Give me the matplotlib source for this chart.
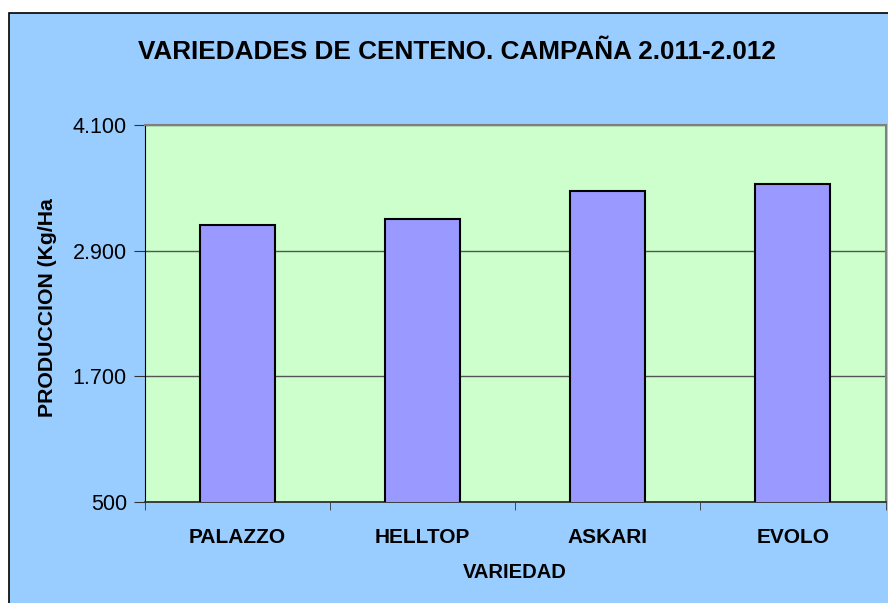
import matplotlib
matplotlib.use('Agg')
import matplotlib.pyplot as plt
from matplotlib import font_manager
from matplotlib.patches import Rectangle

variedades = ['PALAZZO', 'HELLTOP', 'ASKARI', 'EVOLO']
produccion = [3145, 3200, 3467, 3537]
y_ticks = [500, 1700, 2900, 4100]
y_tick_labels = ['500', '1.700', '2.900', '4.100']

title = 'VARIEDADES DE CENTENO. CAMPAÑA 2.011-2.012'
x_label = 'VARIEDAD'
y_label = 'PRODUCCION (Kg/Ha'

names = {f.name for f in font_manager.fontManager.ttflist}
title_font = 'Liberation Sans Narrow' if 'Liberation Sans Narrow' in names else 'Liberation Sans'
plt.rcParams['font.family'] = ['Liberation Sans', 'DejaVu Sans']

W, H = 888, 603
fig = plt.figure(figsize=(W / 100, H / 100), dpi=100, facecolor='white')

# outer chart frame (light blue, black border)
fig.patches.append(Rectangle((8.5 / W, -0.01), 1.0, 1 - 13.5 / H + 0.01,
                             transform=fig.transFigure, facecolor='#99CCFF',
                             edgecolor='black', linewidth=1.2, zorder=-5))

ax = fig.add_axes([145 / W, 1 - 502 / H, (885.5 - 145) / W, (502 - 125) / H])
ax.set_zorder(2)
ax.set_facecolor('#CCFFCC')

x = list(range(len(variedades)))
ax.bar(x, produccion, width=0.405, color='#9999FF', edgecolor='black',
       linewidth=1.5, zorder=3)

ax.set_ylim(500, 4100)
ax.set_xlim(-0.5, len(variedades) - 0.5)
ax.set_yticks(y_ticks)
ax.set_yticklabels(y_tick_labels, fontsize=15.5)
ax.yaxis.grid(True, color='#555555', linewidth=1.0, zorder=1)
ax.set_axisbelow(True)

ax.set_xticks(x)
ax.set_xticklabels(variedades, fontsize=15, fontweight='bold')
ax.tick_params(axis='x', length=0, pad=19)
ax.set_xticks([i - 0.5 for i in range(len(variedades) + 1)], minor=True)
ax.tick_params(axis='x', which='minor', length=6, direction='out', color='#333333')
ax.tick_params(axis='y', length=8, direction='out', pad=5, color='#333333')

for side in ['top', 'right']:
    ax.spines[side].set_color('#808080')
    ax.spines[side].set_linewidth(1.5)
ax.spines['left'].set_color('black')
ax.spines['bottom'].set_color('#333333')
ax.spines['bottom'].set_linewidth(1.3)

ax.set_xlabel(x_label, fontsize=14.5, fontweight='bold', labelpad=11)
ax.set_ylabel(y_label, fontsize=15.3, fontweight='bold')
ax.yaxis.set_label_coords(-88 / (885.5 - 145), 0.515)

fig.text(457 / W, 1 - 52 / H, title, ha='center', va='center',
         fontsize=18.8, fontweight='bold', family=[title_font, 'DejaVu Sans'])

fig.savefig('out.png', dpi=100, facecolor=fig.get_facecolor())
